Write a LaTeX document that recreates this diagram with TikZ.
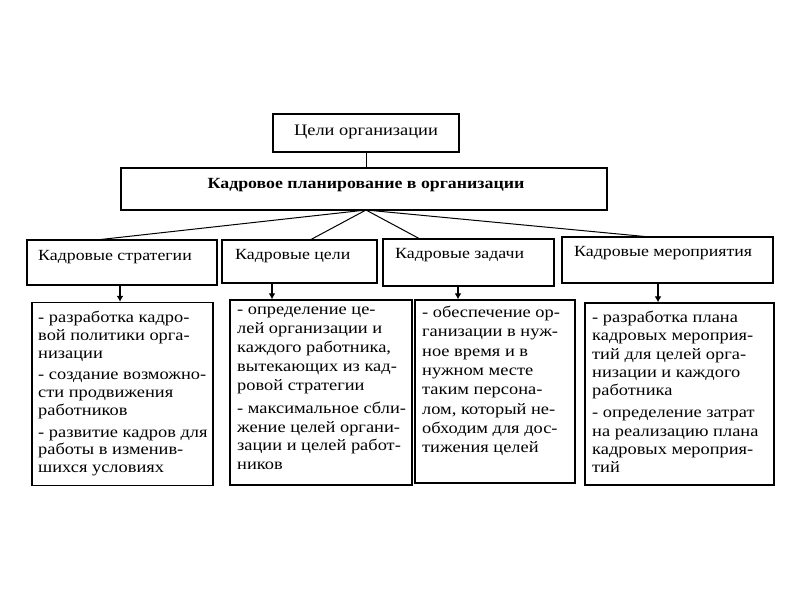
\documentclass[tikz,border=0pt]{standalone}
\usepackage{fontspec}
\setmainfont{Liberation Serif}[FakeStretch=1.15]
\usetikzlibrary{arrows.meta}
\newcommand{\capph}{\vphantom{Б}}
\begin{document}
\begin{tikzpicture}[x=1pt,y=-1pt,
  box/.style={draw, line width=1.4pt, inner sep=0pt},
  head/.style={anchor=west, inner sep=0pt, font=\fontsize{15.5}{17}\selectfont},
  body/.style={anchor=north west, inner sep=0pt, align=left},
  fan/.style={line width=1pt},
  arr/.style={line width=1.5pt, -{Latex[length=6pt,width=7pt]}}]
\useasboundingbox[fill=white] (0,0) rectangle (800,600);
% top
\node[box, minimum width=186pt, minimum height=38pt] (goal) at (366,133) {};
\node[inner sep=0pt, font=\fontsize{16}{17}\selectfont] (goalt) at (366,132) {Цели организации};
\node[box, minimum width=486pt, minimum height=42pt] (plan) at (364,189) {};
\node[inner sep=0pt, font=\fontsize{15.5}{17}\selectfont\bfseries] (plant) at (366,185) {Кадровое планирование в организации};
\draw[line width=1pt] (goal.south) -- (goal.south |- plan.north);
\coordinate (apex) at (366,210);
% header boxes
\node[box, minimum width=190pt, minimum height=45pt] (h1) at (122,262.5) {};
\node[box, minimum width=155pt, minimum height=43pt] (h2) at (299.5,261.5) {};
\node[box, minimum width=171pt, minimum height=47pt] (h3) at (468.5,262.5) {};
\node[box, minimum width=211pt, minimum height=46pt, line width=1.8pt] (h4) at (667.5,260) {};
\node[head] (h1t) at (38,257) {Кадровые стратегии};
\node[head] (h2t) at (235,256) {Кадровые цели};
\node[head] (h3t) at (395,255) {Кадровые задачи};
\node[head] (h4t) at (574,253) {Кадровые мероприятия};
\coordinate (f1) at (96,240);
\coordinate (f2) at (310,240);
\coordinate (f3) at (420,239);
\coordinate (f4) at (650,237);
\draw[fan] (apex) -- (f1);
\draw[fan] (apex) -- (f2);
\draw[fan] (apex) -- (f3);
\draw[fan] (apex) -- (f4);
% lower boxes
\node[box, minimum width=181pt, minimum height=183pt] (b1) at (122.5,394) {};
\node[box, minimum width=182pt, minimum height=185pt] (b2) at (321,392.5) {};
\node[box, minimum width=160pt, minimum height=183pt] (b3) at (495,391.5) {};
\node[box, minimum width=189pt, minimum height=182pt] (b4) at (679.5,394) {};
\draw[arr] (h1.south -| 120,0) -- (b1.north -| 120,0);
\draw[arr] (h2.south -| 272,0) -- (b2.north -| 272,0);
\draw[arr] (h3.south -| 458,0) -- (b3.north -| 458,0);
\draw[arr] (h4.south -| 658,0) -- (b4.north -| 658,0);
\node[body, font=\fontsize{16}{17.75}\selectfont] (b1t) at (38,311) {\capph- разработка кадро-\\вой политики орга-\\низации\\[4pt]- создание возможно-\\сти продвижения\\работников\\[4pt]- развитие кадров для\\работы в изменив-\\шихся условиях};
\node[body, font=\fontsize{16}{18.9}\selectfont] (b2t) at (237,304) {\capph- определение це-\\лей организации и\\каждого работника,\\вытекающих из кад-\\ровой стратегии\\[4pt]- максимальное сбли-\\жение целей органи-\\зации и целей работ-\\ников};
\node[body, font=\fontsize{16}{19.3}\selectfont] (b3t) at (422,306) {\capph- обеспечение ор-\\ганизации в нуж-\\ное время и в\\нужном месте\\таким персона-\\лом, который не-\\обходим для дос-\\тижения целей};
\node[body, font=\fontsize{16}{18.25}\selectfont] (b4t) at (592,311) {\capph- разработка плана\\кадровых мероприя-\\тий для целей орга-\\низации и каждого\\работника\\[4pt]- определение затрат\\на реализацию плана\\кадровых мероприя-\\тий};
\end{tikzpicture}
\end{document}
